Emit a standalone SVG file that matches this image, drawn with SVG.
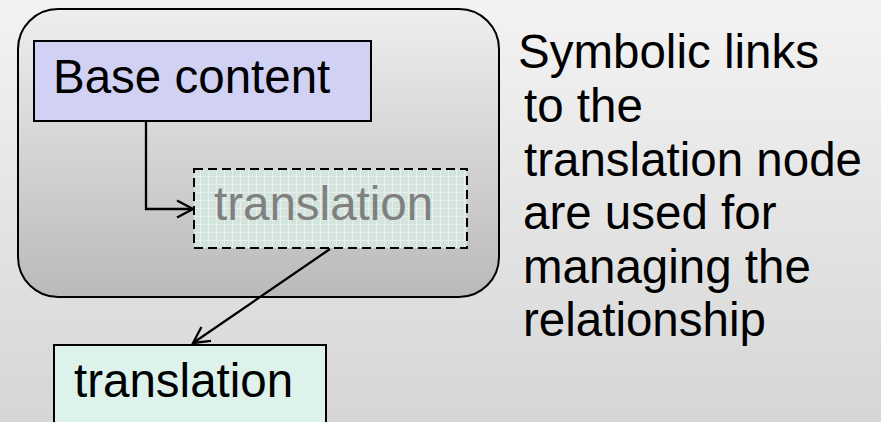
<svg xmlns="http://www.w3.org/2000/svg" width="881" height="422" viewBox="0 0 881 422">
<style>
  text { font-family: "Liberation Sans", Arial, sans-serif; font-size: 47.5px; }
  .edge { fill: none; stroke: #000; stroke-width: 2.3; }
</style>
<defs>
  <linearGradient id="bg" x1="0" y1="0" x2="0" y2="1">
    <stop offset="0" stop-color="#f3f3f3"/>
    <stop offset="1" stop-color="#d6d6d6"/>
  </linearGradient>
  <linearGradient id="grp" x1="0" y1="0" x2="0" y2="1">
    <stop offset="0" stop-color="#eeeeee"/>
    <stop offset="1" stop-color="#bababa"/>
  </linearGradient>
  <pattern id="grid" width="8" height="8" patternUnits="userSpaceOnUse">
    <rect width="8" height="8" fill="#d3e4dc"/>
    <path d="M0 0.5H8M0.5 0V8" stroke="#e6efeb" stroke-width="1"/>
  </pattern>
  <marker id="open" viewBox="0 0 20 20" refX="18" refY="10" markerWidth="20" markerHeight="20" markerUnits="userSpaceOnUse" orient="auto">
    <path d="M2 1.5L18 10L2 18.5" fill="none" stroke="#000" stroke-width="2.3"/>
  </marker>
</defs>
<rect width="881" height="422" fill="url(#bg)"/>
<g id="group-box">
  <rect x="18" y="9" width="481" height="288" rx="40" ry="40" fill="url(#grp)" stroke="#000" stroke-width="2"/>
</g>
<g id="connectors">
  <path class="edge" d="M146 121V209H193" marker-end="url(#open)"/>
  <path class="edge" d="M330 249L193 343" marker-end="url(#open)"/>
</g>
<g id="base-content">
  <rect x="34" y="41" width="337" height="80" fill="#d1d1f4" stroke="#000" stroke-width="2"/>
  <text x="53" y="93" fill="#000">Base content</text>
</g>
<g id="translation-link">
  <rect x="194" y="169" width="273" height="79" fill="url(#grid)" stroke="#000" stroke-width="2" stroke-dasharray="9,5"/>
  <text x="214" y="220" fill="#808080">translation</text>
</g>
<g id="translation">
  <rect x="54" y="345" width="272" height="90" fill="#dcf2ea" stroke="#000" stroke-width="2"/>
  <text x="74" y="397" fill="#000">translation</text>
</g>
<g id="note">
  <text fill="#000">
    <tspan x="518" y="68">Symbolic links</tspan>
    <tspan x="524" y="122">to the</tspan>
    <tspan x="524" y="175.5">translation node</tspan>
    <tspan x="523" y="229">are used for</tspan>
    <tspan x="523" y="282.5">managing the</tspan>
    <tspan x="523" y="336">relationship</tspan>
  </text>
</g>
</svg>
